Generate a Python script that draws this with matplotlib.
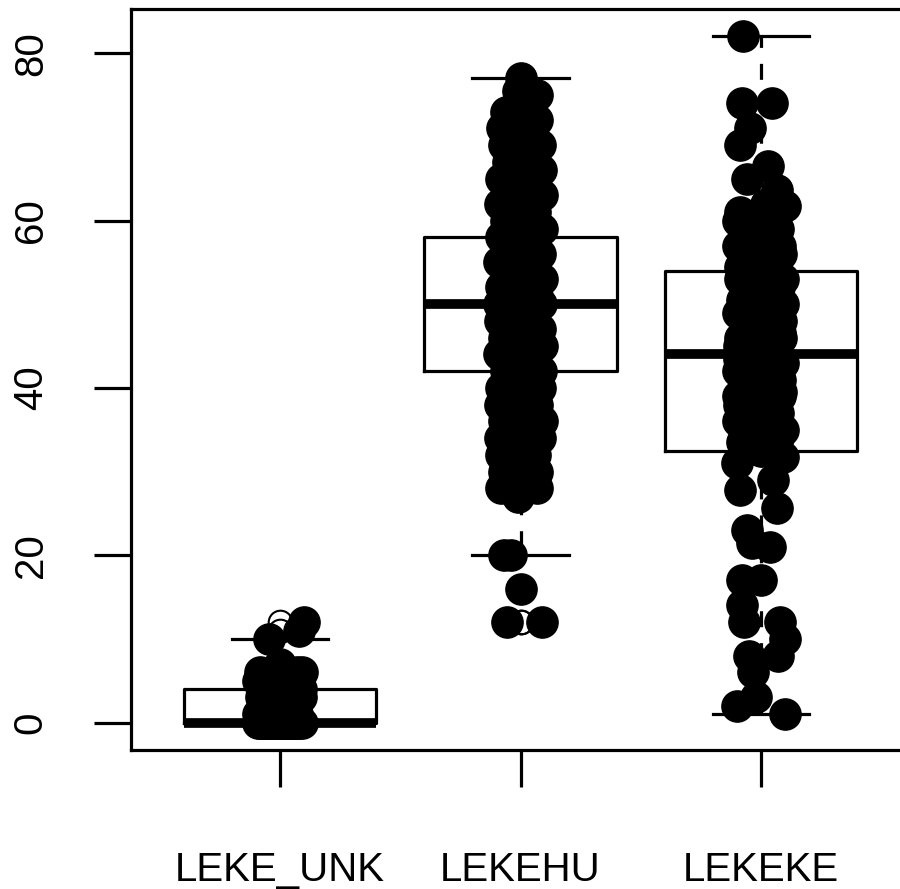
import matplotlib
matplotlib.use("Agg")
import matplotlib.pyplot as plt

plt.rcParams['font.family'] = ['Liberation Sans', 'DejaVu Sans']

categories = ["LEKE_UNK", "LEKEHU", "LEKEKE"]

# box statistics
box_q1 = [0, 42, 32.5]
box_med = [0, 50, 44]
box_q3 = [4, 58, 54]
whisk_lo = [0, 20, 1]
whisk_hi = [10, 77, 82]
fliers_unk = [11, 12]
fliers_hu = [16, 12, 12]
fliers_ke = []

# jittered observations (value, horizontal jitter)
unk_vals = [12, 11, 10, 7, 6, 6, 6, 5, 5, 5, 5, 4, 4, 4, 3, 3, 3, 2, 2, 1, 1, 1,
            0, 0, 0, 0, 0, 0, 0, 0, 0, 0, 0, 0, 0, 0, 0, 0, 0, 0, 0, 0, 0, 0, 0, 0, 0]
unk_jit = [0.10, 0.08, -0.045, 0.0, 0.09, -0.085, 0.07, 0.0, 0.07, -0.09, -0.02, -0.03, 0.06, 0.085,
           -0.08, 0.02, 0.085, -0.05, 0.04, -0.09, 0.07, 0.0,
           -0.09, -0.08, -0.07, -0.06, -0.05, -0.04, -0.03, -0.02, -0.01, 0.0, 0.01, 0.02, 0.03,
           0.04, 0.05, 0.06, 0.07, 0.08, 0.09, -0.085, -0.035, 0.015, 0.065, -0.055, 0.045]

hu_vals = [77, 75.5, 75, 73, 73, 72, 72, 71, 70, 70, 69, 69, 68, 67, 67, 66, 65, 65, 64,
           63, 63, 62, 62, 61, 60, 60, 59, 59, 58, 58, 57, 57, 56, 56, 55, 55, 54, 54,
           53, 53, 52, 52, 51, 51, 50, 50, 50, 49, 49, 48, 48, 47, 47, 46, 46, 45, 45,
           44, 44, 43, 43, 42, 42, 41, 41, 40, 40, 39, 39, 38, 38, 37, 37, 36, 36,
           35, 35, 34, 34, 33, 33, 32, 32, 31, 31, 30, 30, 29, 29, 28, 28, 27,
           20, 20, 16, 12, 12]
hu_jit = [0.0, -0.012, 0.07, -0.06, 0.03, 0.07, -0.02, -0.075, 0.04, -0.01, 0.08, -0.07, 0.0,
          -0.05, 0.06, 0.085, -0.08, 0.02, 0.05, -0.04, 0.09, -0.085, 0.01, 0.06, -0.06, 0.03,
          0.09, -0.02, -0.08, 0.05, 0.0, -0.05, 0.08, 0.03, -0.09, -0.01, 0.06, -0.06,
          0.09, 0.0, -0.08, 0.04, -0.03, 0.07, -0.09, 0.02, 0.085, -0.05, 0.05, 0.0, -0.085,
          0.08, -0.03, -0.07, 0.04, 0.09, 0.0, -0.09, -0.04, 0.06, 0.02, -0.06, 0.085,
          -0.02, 0.05, -0.08, 0.08, 0.0, -0.05, 0.07, -0.085, 0.03, -0.03, -0.07, 0.09,
          0.05, -0.01, -0.085, 0.08, 0.0, -0.05, 0.06, -0.08, 0.03, -0.03, 0.07, -0.07,
          -0.02, 0.04, -0.08, 0.07, -0.01,
          -0.07, -0.04, 0.0, -0.055, 0.09]

ke_vals = [82, 74, 74, 71, 69, 66.5, 65, 63.7, 61.7, 61,
           60, 60, 59, 58, 58, 57, 57, 56, 55, 55, 54, 54, 53, 53, 52, 51, 51, 50, 50,
           49, 49, 48, 47, 47, 46, 46, 45, 44, 44, 43, 43, 42, 42, 41, 40, 40, 39, 39,
           38, 37, 37, 36, 36, 35, 35, 34, 33, 33,
           59.5, 58.5, 57.5, 56.5, 55.5, 54.5, 53.5, 52.5, 51.5, 50.5, 49.5, 48.5, 47.5,
           46.5, 45.5, 44.5, 43.5, 42.5, 41.5, 40.5, 39.5, 38.5, 37.5, 36.5, 35.5, 34.5,
           33.5, 32.5, 62, 60.5, 56, 52, 48, 45, 41, 38, 34,
           31.7, 31, 29, 27.8, 25.7, 23, 21.4, 21, 17, 17, 14, 12, 12, 10, 8, 8, 6, 3, 2, 1]
ke_jit = [-0.075, -0.08, 0.045, -0.045, -0.087, 0.03, -0.06, 0.066, 0.1, -0.088,
          -0.095, 0.02, 0.07, -0.05, 0.0, 0.08, -0.095, 0.03, -0.07, 0.06, 0.0, -0.03,
          0.09, -0.085, 0.04, -0.06, 0.07, -0.02, 0.09, -0.095, 0.03, 0.06, -0.05, 0.0,
          0.085, -0.085, 0.02, -0.07, 0.06, -0.02, 0.09, -0.095, 0.03, 0.05, -0.06, -0.01,
          0.08, -0.095, 0.02, -0.05, 0.07, -0.095, 0.04, 0.09, -0.02, -0.07, 0.05, -0.04,
          0.045, -0.02, -0.07, 0.06, 0.01, -0.085, 0.075, -0.03, 0.03, -0.08, 0.055, 0.0,
          -0.045, 0.08, -0.06, 0.035, -0.09, 0.065, -0.015, -0.055, 0.085, 0.015, -0.075,
          0.05, -0.035, 0.07, -0.08, 0.0,
          0.02, -0.05, 0.085, 0.075, 0.085, -0.09, 0.08, -0.09, 0.07,
          0.09, -0.1, 0.05, -0.088, 0.067, -0.058, -0.037, 0.037, -0.08, 0.0, -0.08,
          -0.07, 0.08, 0.1, 0.07, -0.05, -0.035, -0.02, -0.1, 0.1]

fig = plt.figure(figsize=(9, 8.89), dpi=100)
ax = fig.add_axes([131 / 900, 139 / 889, 779 / 900, 741 / 889])

stats = []
all_fliers = [fliers_unk, fliers_hu, fliers_ke]
for i in range(3):
    stats.append(dict(med=box_med[i], q1=box_q1[i], q3=box_q3[i],
                      whislo=whisk_lo[i], whishi=whisk_hi[i], fliers=all_fliers[i]))

lw = 2.3
ax.bxp(stats, positions=[1, 2, 3], widths=0.8, capwidths=0.4,
       boxprops=dict(color='black', linewidth=lw),
       medianprops=dict(color='black', linewidth=7, solid_capstyle='butt'),
       whiskerprops=dict(color='black', linewidth=lw, linestyle=(0, (5, 5))),
       capprops=dict(color='black', linewidth=lw),
       flierprops=dict(marker='o', markerfacecolor='none', markeredgecolor='black',
                       markersize=17, markeredgewidth=1.5, linestyle='none'),
       zorder=2)

groups = [(unk_vals, unk_jit), (hu_vals, hu_jit), (ke_vals, ke_jit)]
for i, (vals, jit) in enumerate(groups):
    xs = [i + 1 + j for j in jit]
    ax.plot(xs, vals, 'o', markersize=22.5, markerfacecolor='black',
            markeredgecolor='black', markeredgewidth=1, linestyle='none', zorder=5)

ax.set_xlim(0.38, 3.62)
ax.set_ylim(-3.28, 85.28)
ax.set_xticks([1, 2, 3])
ax.set_xticklabels(categories)
ax.set_yticks([0, 20, 40, 60, 80])
for s in ax.spines.values():
    s.set_linewidth(lw)
ax.tick_params(axis='x', length=26.5, width=lw, labelsize=29, pad=46)
ax.tick_params(axis='y', length=26.5, width=lw, labelsize=29, pad=32)
for lab in ax.get_yticklabels():
    lab.set_rotation(90)
    lab.set_va('center')

fig.savefig("out.png", dpi=100)
